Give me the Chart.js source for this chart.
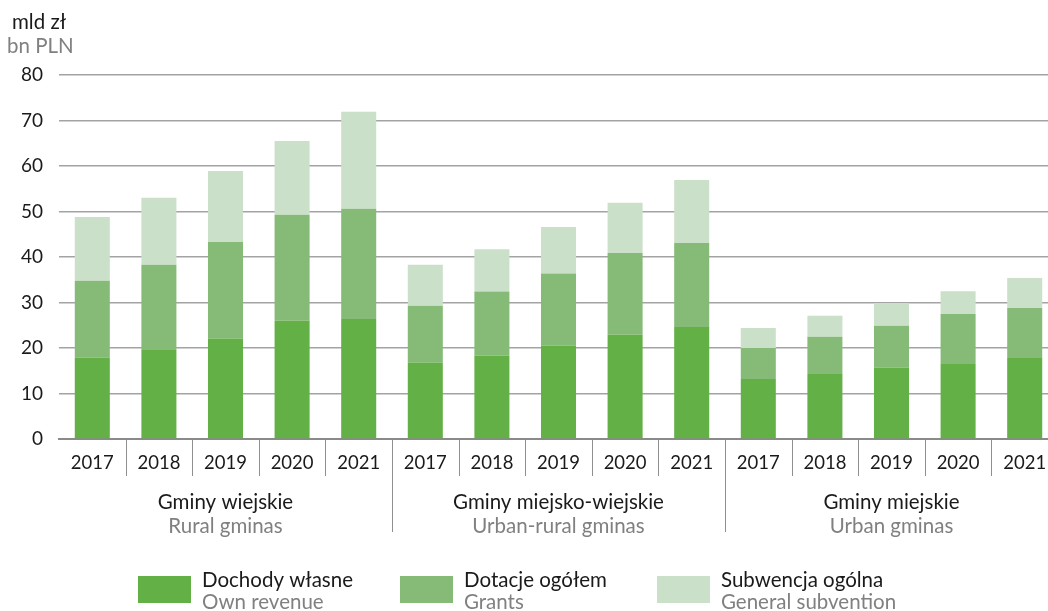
<!DOCTYPE html>
<html>
<head>
<meta charset="utf-8">
<script src="https://cdn.jsdelivr.net/npm/chart.js@4.4.1/dist/chart.umd.min.js"></script>
<style>
  html, body { margin: 0; padding: 0; background: #fff; overflow: hidden; }
  #wrap { width: 1058px; height: 611px; position: relative; }
</style>
</head>
<body>
<div id="wrap"><canvas id="c" width="1058" height="611"></canvas></div>
<script>
// ---- data ----
const years = ['2017','2018','2019','2020','2021','2017','2018','2019','2020','2021','2017','2018','2019','2020','2021'];
const groupsPL = ['Gminy wiejskie', 'Gminy miejsko-wiejskie', 'Gminy miejskie'];
const groupsEN = ['Rural gminas', 'Urban-rural gminas', 'Urban gminas'];
const seriesPL = ['Dochody własne', 'Dotacje ogółem', 'Subwencja ogólna'];
const seriesEN = ['Own revenue', 'Grants', 'General subvention'];
const ownRevenue = [17.9, 19.7, 22.1, 26.0, 26.4, 16.8, 18.3, 20.5, 22.9, 24.6, 13.2, 14.3, 15.7, 16.5, 17.8];
const grants     = [16.9, 18.6, 21.2, 23.3, 24.2, 12.5, 14.1, 15.9, 18.0, 18.5, 6.8, 8.2, 9.2, 11.0, 11.0];
const subvention = [14.0, 14.7, 15.6, 16.2, 21.3, 9.0, 9.3, 10.2, 11.0, 13.8, 4.4, 4.6, 5.0, 5.0, 6.6];
const yTicks = [0, 10, 20, 30, 40, 50, 60, 70, 80];
const unitPL = 'mld zł';
const unitEN = 'bn PLN';

const colors = ['#63b046', '#86bb77', '#cbe0c9'];
const FONT = 'Lato, "Open Sans", sans-serif';
const BLACK = '#1a1a1a';
const GRAY = '#808080';

const extras = {
  id: 'extras',
  afterDraw(chart) {
    const ctx = chart.ctx;
    const xs = chart.scales.x;
    const area = chart.chartArea;
    const bottom = area.bottom;
    ctx.save();
    // separators
    ctx.strokeStyle = '#8f8f8f';
    ctx.lineWidth = 1;
    for (let i = 1; i < years.length; i++) {
      const x = Math.round((xs.getPixelForTick(i - 1) + xs.getPixelForTick(i)) / 2) + 0.5;
      const long = (i % 5 === 0);
      ctx.beginPath();
      ctx.moveTo(x, bottom + 1);
      ctx.lineTo(x, long ? 532 : 476);
      ctx.stroke();
    }
    // group labels
    ctx.textAlign = 'center';
    ctx.textBaseline = 'alphabetic';
    for (let g = 0; g < groupsPL.length; g++) {
      const cx = (xs.getPixelForTick(g * 5) + xs.getPixelForTick(g * 5 + 4)) / 2;
      ctx.font = '20.5px ' + FONT;
      ctx.fillStyle = BLACK;
      ctx.fillText(groupsPL[g], cx, 509);
      ctx.fillStyle = GRAY;
      ctx.fillText(groupsEN[g], cx, 533);
    }
    // unit title
    ctx.textAlign = 'left';
    ctx.font = '20.5px ' + FONT;
    ctx.fillStyle = BLACK;
    ctx.fillText(unitPL, 12, 29);
    ctx.fillStyle = GRAY;
    ctx.fillText(unitEN, 7, 53);
    // legend
    const legX = [138, 400, 657];
    for (let s = 0; s < seriesPL.length; s++) {
      ctx.fillStyle = colors[s];
      ctx.fillRect(legX[s], 576, 53, 27);
      ctx.font = '20.5px ' + FONT;
      ctx.fillStyle = BLACK;
      ctx.fillText(seriesPL[s], legX[s] + 64, 587);
      ctx.fillStyle = GRAY;
      ctx.fillText(seriesEN[s], legX[s] + 64, 609);
    }
    ctx.restore();
  }
};

new Chart(document.getElementById('c'), {
  type: 'bar',
  data: {
    labels: years,
    datasets: [
      { label: seriesPL[0], data: ownRevenue, backgroundColor: colors[0] },
      { label: seriesPL[1], data: grants, backgroundColor: colors[1] },
      { label: seriesPL[2], data: subvention, backgroundColor: colors[2] }
    ]
  },
  options: {
    responsive: false,
    animation: false,
    devicePixelRatio: 1,
    layout: { padding: { top: 75, left: 0, right: 0, bottom: 0 } },
    datasets: { bar: { categoryPercentage: 1, barPercentage: 0.526, borderWidth: 0 } },
    plugins: { legend: { display: false }, tooltip: { enabled: false } },
    scales: {
      x: {
        stacked: true,
        grid: { display: false },
        border: { display: true, color: '#8a8a8a', width: 2 },
        ticks: { color: BLACK, font: { family: FONT, size: 18.5 }, padding: 5, maxRotation: 0, autoSkip: false },
        afterFit(scale) { scale.height = 611 - 439; }
      },
      y: {
        stacked: true,
        min: 0, max: 80,
        afterBuildTicks(scale) { scale.ticks = yTicks.map(v => ({ value: v })); },
        grid: { color: '#a3a3a3', lineWidth: 1.5, drawTicks: false },
        border: { display: false },
        ticks: { color: BLACK, font: { family: FONT, size: 19 }, padding: 16 },
        afterFit(scale) { scale.width = 59; }
      }
    }
  },
  plugins: [extras]
});
</script>
</body>
</html>
